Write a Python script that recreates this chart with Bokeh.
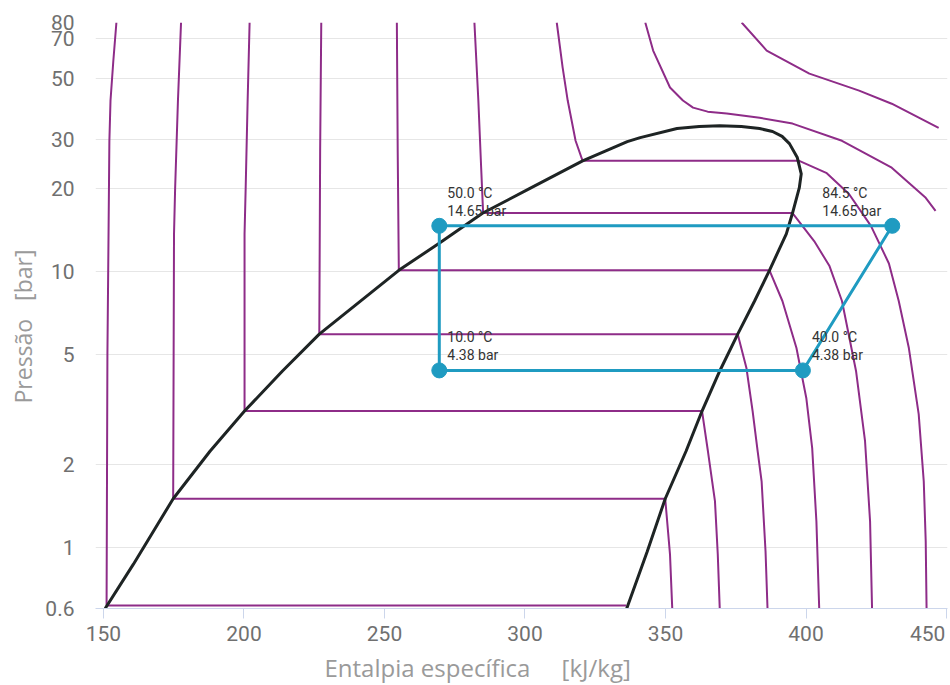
from bokeh.plotting import figure
from bokeh.models import FixedTicker, CustomJSTickFormatter, Range1d, ColumnDataSource, Title
from bokeh.core.properties import value
from bokeh.embed import file_html
from bokeh.resources import INLINE

# ---------------- data ----------------
x_ticks = [150, 200, 250, 300, 350, 400, 450]
y_ticks = [0.6, 1, 2, 5, 10, 20, 30, 50, 70, 80]
y_tick_labels = ["0.6", "1", "2", "5", "10", "20", "30", "50", "70", "80"]

# saturation dome (liquid side -> top -> vapour side)
sat_h = [150.6, 160.6, 174.8, 187.9, 200.2, 213.7, 226.8, 255.1, 269.6, 285.0, 302.1, 320.5,
         336.4, 341.0, 354.1, 362.0, 369.3, 377.0, 383.5, 388.1, 391.5, 394.1, 396.9, 398.3, 397.6,
         395.2, 393.0, 387.0, 381.7, 375.7, 369.3, 363.0, 357.3, 349.9, 343.5, 336.2]
sat_p = [0.6, 0.867, 1.5, 2.23, 3.12, 4.36, 5.93, 10.1, 12.7, 16.3, 20.1, 25.2,
         29.6, 30.6, 33.0, 33.6, 33.8, 33.6, 33.0, 32.2, 30.9, 29.1, 25.9, 22.6, 20.1,
         16.3, 13.7, 10.1, 7.82, 5.93, 4.36, 3.12, 2.23, 1.5, 0.966, 0.6]

# isotherms
iso_m40_h = [154.6, 153.5, 152.5, 152.1, 151.8, 151.4, 151.1, 336.0]
iso_m40_p = [80, 58, 41.7, 29.8, 13.7, 5, 0.615, 0.615]
iso_m20_h = [177.6, 176.5, 175.5, 175.1, 174.8, 349.9, 351.6, 352.4]
iso_m20_p = [80, 41.7, 20.1, 13.7, 1.5, 1.5, 0.943, 0.6]
iso_0_h = [202.0, 201.3, 200.6, 200.2, 200.2, 363.0, 365.1, 367.6, 368.6, 369.3]
iso_0_p = [80, 41.7, 20.1, 13.7, 3.12, 3.12, 2.23, 1.47, 0.943, 0.6]
iso_20_h = [227.5, 227.1, 226.8, 375.7, 378.8, 381.0, 382.8, 384.2, 385.6, 386.3]
iso_20_p = [80, 27.4, 5.93, 5.93, 4.47, 3.12, 2.23, 1.736, 0.966, 0.6]
iso_40_h = [254.4, 254.7, 255.1, 387.0, 391.6, 396.6, 400.1, 402.2, 403.7, 404.7]
iso_40_p = [80, 27.4, 10.1, 10.1, 7.82, 5.28, 3.48, 2.29, 1.24, 0.6]
iso_60_h = [282.0, 283.4, 284.4, 285.1, 395.2, 402.9, 408.3, 412.8, 417.8, 421.0, 422.8, 423.5]
iso_60_p = [80, 41.7, 23.8, 16.3, 16.3, 12.9, 10.5, 7.82, 4.36, 2.43, 1.24, 0.6]
iso_80_h = [311.3, 313.4, 315.2, 318.0, 320.5, 397.6, 407.2, 415.3, 423.1, 429.5, 433.0,
            436.6, 440.1, 441.9, 442.6, 442.9]
iso_80_p = [80, 54.9, 41.7, 29.8, 25.2, 25.2, 22.8, 19.1, 14.65, 10.7, 7.82,
            5.28, 3.04, 1.736, 1.05, 0.6]
iso_100_h = [342.8, 345.6, 351.6, 356.2, 359.8, 365.0, 371.8, 383.5, 395.2, 412.8, 430.5, 442.6, 446.1]
iso_100_p = [80, 63.3, 46.5, 41.7, 39.3, 38.0, 37.4, 36.1, 34.4, 29.8, 23.8, 18.5, 16.6]
iso_120_h = [377.1, 386.0, 401.2, 418.9, 430.5, 447.2]
iso_120_p = [80, 63.3, 52.2, 45.3, 40.6, 33.2]

# refrigeration cycle
cycle_h = [398.9, 430.7, 269.5, 269.5, 398.9]
cycle_p = [4.38, 14.65, 14.65, 4.38, 4.38]
point_h = [269.5, 430.7, 398.9, 269.5]
point_p = [14.65, 14.65, 4.38, 4.38]
point_temp = ["50.0 °C", "84.5 °C", "40.0 °C", "10.0 °C"]
point_pres = ["14.65 bar", "14.65 bar", "4.38 bar", "4.38 bar"]
label_dx = [8, -70, 9, 8]

x_title = "Entalpia específica"
x_unit = "[kJ/kg]"
y_title = "Pressão"
y_unit = "[bar]"

# ---------------- figure ----------------
XMIN, XMAX = 147.16, 450.35
YMIN, YMAX = 0.6, 80
NB = "\u00a0"

p = figure(width=950, height=685, x_range=Range1d(XMIN, XMAX), y_range=Range1d(YMIN, YMAX),
           y_axis_type="log", output_backend="svg", toolbar_location=None,
           min_border_left=92, min_border_right=3, min_border_top=22, min_border_bottom=77)
p.outline_line_color = None
p.background_fill_color = "white"
p.border_fill_color = "white"

p.xgrid.visible = False
p.ygrid.grid_line_color = "#e6e6e6"
p.ygrid.grid_line_width = 1

xa = p.xaxis[0]
xa.ticker = FixedTicker(ticks=x_ticks)
# last label pulled inside the plot like the reference (padding shifts the centred text left)
xa.major_label_overrides = {450: "450" + NB}
xa.axis_line_color = "#ccd6eb"
xa.major_tick_line_color = "#ccd6eb"
xa.major_tick_out = 10
xa.major_tick_in = 0
xa.minor_tick_line_color = None
xa.major_label_standoff = 3
xa.major_label_text_font = "Roboto"
xa.major_label_text_font_size = "21px"
xa.major_label_text_color = "#707070"

ya = p.yaxis[0]
ya.ticker = FixedTicker(ticks=y_ticks)
ya.formatter = CustomJSTickFormatter(code="return String(tick);")
ya.major_label_overrides = {t: s for t, s in zip(y_ticks, y_tick_labels)}
ya.axis_line_color = None
ya.major_tick_line_color = None
ya.minor_tick_line_color = None
ya.major_tick_out = 0
ya.major_tick_in = 0
ya.major_label_standoff = 21
ya.major_label_text_align = "right"
ya.major_label_text_font = "Roboto"
ya.major_label_text_font_size = "21px"
ya.major_label_text_color = "#707070"

iso_xs = [iso_m40_h, iso_m20_h, iso_0_h, iso_20_h, iso_40_h, iso_60_h, iso_80_h, iso_100_h, iso_120_h]
iso_ys = [iso_m40_p, iso_m20_p, iso_0_p, iso_20_p, iso_40_p, iso_60_p, iso_80_p, iso_100_p, iso_120_p]
p.multi_line(xs=iso_xs, ys=iso_ys, line_color="#8e2c88", line_width=2)

p.line(sat_h, sat_p, line_color="#1e2424", line_width=3)

p.line(cycle_h, cycle_p, line_color="#1f9bc1", line_width=3)
p.scatter(point_h, point_p, size=15, fill_color="#1f9bc1", line_color="#1f9bc1")

src = ColumnDataSource(dict(h=point_h, p=point_p, t=point_temp, b=point_pres, dx=label_dx))
p.text(x="h", y="p", text="t", x_offset="dx", y_offset=-33, source=src,
       text_font=value("Roboto"), text_font_size="14px", text_color="#333333",
       text_baseline="middle", text_align="left")
p.text(x="h", y="p", text="b", x_offset="dx", y_offset=-15, source=src,
       text_font=value("Roboto"), text_font_size="14px", text_color="#333333",
       text_baseline="middle", text_align="left")

# axis titles
p.add_layout(Title(text=x_title + NB * 5 + x_unit, align="left", offset=229, standoff=1,
                   text_font="Open Sans", text_font_size="24px", text_font_style="normal",
                   text_color="#9a9a9a"), "below")
p.add_layout(Title(text=y_title + NB * 3 + y_unit, align="left", offset=205, standoff=8,
                   text_font="Open Sans", text_font_size="23px", text_font_style="normal",
                   text_color="#9a9a9a"), "left")

open("out.html", "w").write(file_html(p, INLINE))
